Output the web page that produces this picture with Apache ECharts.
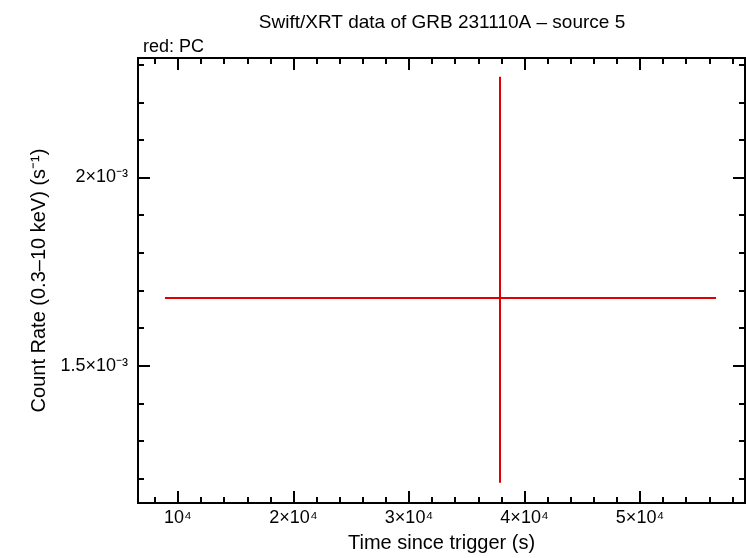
<!DOCTYPE html><html><head><meta charset="utf-8"><script src="https://cdn.jsdelivr.net/npm/echarts@6/dist/echarts.min.js"></script></head><body style="margin:0"><div id="c" style="width:746px;height:558px"></div><script>
const times=[37880], timeLo=[8874], timeHi=[56580];
const rates=[1.680e-3], rateLo=[1.189e-3], rateHi=[2.268e-3];
const xTickVals=[10000,20000,30000,40000,50000], xTickLabels=['10⁴','2×10⁴','3×10⁴','4×10⁴','5×10⁴'];
const yTickVals=[1.5e-3,2e-3], yTickLabels=['1.5×10⁻³','2×10⁻³'];
const xMinor=[];for(let v=8000;v<=58000;v+=2000)xMinor.push(v);
const yMinor=[];for(let i=12;i<=23;i++)yMinor.push(i/1e4);
const f='Liberation Sans';
const ax=(o)=>Object.assign({axisLine:{show:true,onZero:false,lineStyle:{color:'#000',width:2}},splitLine:{show:false}},o);
const ch=echarts.init(document.getElementById('c'));
ch.setOption({animation:false,
title:[{text:'Swift/XRT data of GRB 231110A – source 5',left:437,top:8,textAlign:'center',textStyle:{fontFamily:f,fontSize:19,fontWeight:'normal',color:'#000'}},
{text:'red: PC',left:138,top:33,textStyle:{fontFamily:f,fontSize:18,fontWeight:'normal',color:'#000'}}],
grid:{left:138,right:1,top:58,bottom:50},
xAxis:[ax({type:'value',min:6540,max:59090,position:'bottom',name:'Time since trigger (s)',nameLocation:'middle',nameGap:30,nameTextStyle:{fontFamily:f,fontSize:20,color:'#000'},
 axisTick:{inside:true,length:12,lineStyle:{width:2,color:'#000'},customValues:xTickVals},minorTick:{show:false},
 axisLabel:{customValues:xTickVals,formatter:v=>xTickLabels[xTickVals.indexOf(v)],fontFamily:f,fontSize:18,color:'#000',margin:6}}),
 ax({type:'value',min:6540,max:59090,position:'top',axisTick:{inside:true,length:12,lineStyle:{width:2,color:'#000'},customValues:xTickVals},axisLabel:{show:false}}),
 ax({type:'value',min:6540,max:59090,position:'bottom',gridIndex:0,axisTick:{inside:true,length:6,lineStyle:{width:2,color:'#000'},customValues:xMinor},axisLabel:{show:false}}),
 ax({type:'value',min:6540,max:59090,position:'top',axisTick:{inside:true,length:6,lineStyle:{width:2,color:'#000'},customValues:xMinor},axisLabel:{show:false}})],
yAxis:[ax({type:'value',min:1.1352e-3,max:2.3176e-3,position:'left',name:'Count Rate (0.3–10 keV) (s⁻¹)',nameLocation:'middle',nameGap:88,nameTextStyle:{fontFamily:f,fontSize:20,color:'#000'},
 axisTick:{inside:true,length:12,lineStyle:{width:2,color:'#000'},customValues:yTickVals},
 axisLabel:{customValues:yTickVals,formatter:v=>yTickLabels[yTickVals.indexOf(v)],fontFamily:f,fontSize:18,color:'#000',margin:10}}),
 ax({type:'value',min:1.1352e-3,max:2.3176e-3,position:'right',axisTick:{inside:true,length:12,lineStyle:{width:2,color:'#000'},customValues:yTickVals},axisLabel:{show:false}}),
 ax({type:'value',min:1.1352e-3,max:2.3176e-3,position:'left',axisTick:{inside:true,length:6,lineStyle:{width:2,color:'#000'},customValues:yMinor},axisLabel:{show:false}}),
 ax({type:'value',min:1.1352e-3,max:2.3176e-3,position:'right',axisTick:{inside:true,length:6,lineStyle:{width:2,color:'#000'},customValues:yMinor},axisLabel:{show:false}})],
series:[{type:'custom',xAxisIndex:0,yAxisIndex:0,data:times.map((t,i)=>[t,rates[i],timeLo[i],timeHi[i],rateLo[i],rateHi[i]]),
renderItem:(p,api)=>{const c=api.coord([api.value(0),api.value(1)]),l=api.coord([api.value(2),api.value(1)]),r=api.coord([api.value(3),api.value(1)]),b=api.coord([api.value(0),api.value(4)]),t=api.coord([api.value(0),api.value(5)]);
const st={stroke:'#e00000',lineWidth:2};
return {type:'group',children:[{type:'line',shape:{x1:l[0],y1:l[1],x2:r[0],y2:r[1]},style:st},{type:'line',shape:{x1:b[0],y1:b[1],x2:t[0],y2:t[1]},style:st}]};}}]
});
</script></body></html>
